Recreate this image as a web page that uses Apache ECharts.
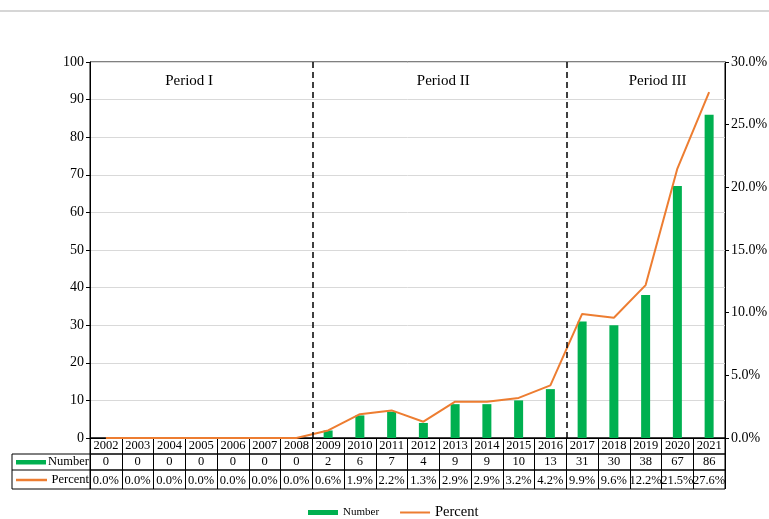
<!DOCTYPE html>
<html>
<head>
<meta charset="utf-8">
<script src="https://cdn.jsdelivr.net/npm/echarts@6/dist/echarts.min.js"></script>
<style>
  html, body { margin: 0; padding: 0; background: #fff; }
  #chart { width: 769px; height: 519px; }
</style>
</head>
<body>
<div id="chart"></div>
<script>
const years = ['2002', '2003', '2004', '2005', '2006', '2007', '2008', '2009', '2010', '2011',
  '2012', '2013', '2014', '2015', '2016', '2017', '2018', '2019', '2020', '2021'];
const numbers = [0, 0, 0, 0, 0, 0, 0, 2, 6, 7, 4, 9, 9, 10, 13, 31, 30, 38, 67, 86];
const percents = [0.0, 0.0, 0.0, 0.0, 0.0, 0.0, 0.0, 0.6, 1.9, 2.2, 1.3, 2.9, 2.9, 3.2, 4.2, 9.9, 9.6, 12.2, 21.5, 27.6];
const periods = [
  { name: 'Period I', from: '2002', to: '2008' },
  { name: 'Period II', from: '2009', to: '2016' },
  { name: 'Period III', from: '2017', to: '2021' },
];

const serif = '"Liberation Serif", "Times New Roman", serif';
const GREEN = '#00B050';
const ORANGE = '#ED7D31';

const chart = echarts.init(document.getElementById('chart'));

// table rows: [top, bottom] in px of each row grid
const rows = [
  { labels: years, top: 438, bottom: 65 },
  { labels: numbers.map(String), top: 454, bottom: 49 },
  { labels: percents.map(p => p.toFixed(1) + '%'), top: 470, bottom: 30 },
];

const rowGrids = rows.map(r => ({
  left: 90, right: 44, top: r.top, bottom: r.bottom,
  show: true, borderColor: '#000', borderWidth: 1, outerBoundsMode: 'none'
}));
const rowXAxes = rows.map((r, i) => ({
  type: 'category',
  gridIndex: i + 1,
  data: r.labels,
  position: 'bottom',
  axisLine: { show: false },
  axisTick: { show: false },
  axisLabel: {
    inside: true, interval: 0, margin: 2, hideOverlap: false,
    color: '#000', fontFamily: serif, fontSize: 12.5
  },
  splitLine: { show: true, interval: 0, lineStyle: { color: '#000', width: 1 } }
}));
const rowYAxes = rows.map((r, i) => ({ type: 'value', gridIndex: i + 1, show: false }));

const labelOffsets = [[-12, 0], [4, 0], [12, 0]];
// period separators sit on the band edge before each new period's first year
const breakIdx = periods.slice(1).map(p => years.indexOf(p.from));

chart.setOption({
  backgroundColor: '#fff',
  animation: false,
  textStyle: { fontFamily: serif },
  grid: [
    {
      left: 90, right: 44, top: 62, bottom: 81,
      show: true, borderColor: '#000', borderWidth: 1,
      outerBoundsMode: 'none'
    },
    ...rowGrids
  ],
  legend: {
    top: 500,
    left: 303,
    itemWidth: 30,
    itemHeight: 5,
    itemGap: 20,
    data: [
      { name: 'Number', icon: 'rect', textStyle: { fontSize: 11, fontFamily: serif, color: '#000' } },
      { name: 'Percent', itemStyle: { opacity: 0 }, textStyle: { fontSize: 14.5, fontFamily: serif, color: '#000' } }
    ]
  },
  xAxis: [
    {
      type: 'category',
      gridIndex: 0,
      data: years,
      position: 'bottom',
      axisLine: { show: true, lineStyle: { color: '#000' } },
      axisTick: { show: false },
      axisLabel: { show: false },
      splitLine: { show: false }
    },
    ...rowXAxes,
    // hidden band-edge scale for the period separators
    { type: 'value', gridIndex: 0, min: 0, max: years.length, show: false }
  ],
  yAxis: [
    {
      type: 'value', gridIndex: 0, min: 0, max: 100, interval: 10,
      axisLine: { show: true, lineStyle: { color: '#000' } },
      axisTick: { show: true, length: 4, lineStyle: { color: '#000' } },
      axisLabel: { color: '#000', fontFamily: serif, fontSize: 14, margin: 6 },
      splitLine: { show: true, lineStyle: { color: '#d9d9d9' } }
    },
    {
      type: 'value', gridIndex: 0, min: 0, max: 30, interval: 5, position: 'right',
      axisLine: { show: true, lineStyle: { color: '#000' } },
      axisTick: { show: true, length: 4, lineStyle: { color: '#000' } },
      axisLabel: { color: '#000', fontFamily: serif, fontSize: 14, margin: 6, formatter: v => v.toFixed(1) + '%' },
      splitLine: { show: false }
    },
    ...rowYAxes
  ],
  series: [
    {
      name: 'Number',
      type: 'bar',
      xAxisIndex: 0,
      yAxisIndex: 0,
      data: numbers,
      barWidth: 9,
      itemStyle: { color: GREEN },
      markArea: {
        silent: true,
        itemStyle: { color: 'rgba(0,0,0,0)' },
        label: { position: 'insideTop', distance: 12, color: '#000', fontFamily: serif, fontSize: 15 },
        data: periods.map((p, i) => [
          { name: p.name, xAxis: p.from, label: { offset: labelOffsets[i] } },
          { xAxis: p.to }
        ])
      }
    },
    {
      name: 'Percent',
      type: 'line',
      xAxisIndex: 0,
      yAxisIndex: 1,
      data: percents,
      symbol: 'none',
      lineStyle: { color: ORANGE, width: 2 },
      itemStyle: { color: ORANGE }
    },
    {
      name: 'breaks',
      type: 'line',
      xAxisIndex: 4,
      yAxisIndex: 0,
      data: [],
      markLine: {
        silent: true,
        symbol: 'none',
        label: { show: false },
        lineStyle: { color: '#000', type: [6, 4], width: 1.5 },
        data: breakIdx.map(i => ({ xAxis: i }))
      }
    }
  ],
  graphic: [
    { type: 'line', shape: { x1: 0, y1: 11, x2: 769, y2: 11 }, style: { stroke: '#c8c8c8', lineWidth: 1.5 } },
    // header column of the data table
    { type: 'line', shape: { x1: 12, y1: 454, x2: 90, y2: 454 }, style: { stroke: '#000', lineWidth: 1 } },
    { type: 'line', shape: { x1: 12, y1: 470, x2: 90, y2: 470 }, style: { stroke: '#000', lineWidth: 1 } },
    { type: 'line', shape: { x1: 12, y1: 489, x2: 90, y2: 489 }, style: { stroke: '#000', lineWidth: 1 } },
    { type: 'line', shape: { x1: 12, y1: 454, x2: 12, y2: 489 }, style: { stroke: '#000', lineWidth: 1 } },
    { type: 'rect', shape: { x: 16, y: 460, width: 30, height: 4.5 }, style: { fill: GREEN } },
    { type: 'line', shape: { x1: 16, y1: 480, x2: 47, y2: 480 }, style: { stroke: ORANGE, lineWidth: 2.5 } },
    { type: 'text', x: 89, y: 462, style: { text: 'Number', align: 'right', verticalAlign: 'middle', font: '12.5px ' + serif, fill: '#000' } },
    { type: 'text', x: 89, y: 480, style: { text: 'Percent', align: 'right', verticalAlign: 'middle', font: '12.5px ' + serif, fill: '#000' } }
  ]
});
</script>
</body>
</html>
